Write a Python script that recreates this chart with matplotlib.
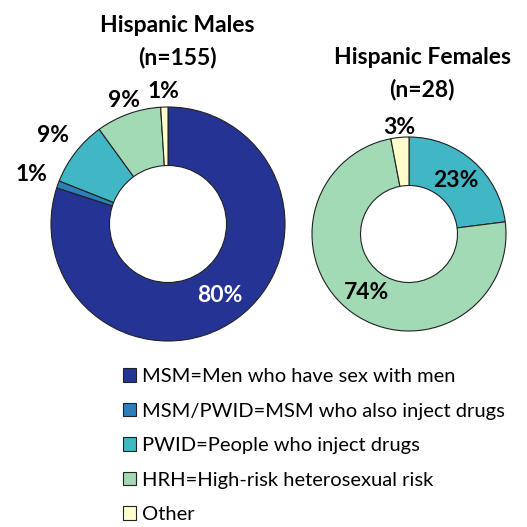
import matplotlib.pyplot as plt
from matplotlib.patches import Patch
import numpy as np

plt.rcParams['font.family'] = ['Lato', 'DejaVu Sans']

categories = ['MSM=Men who have sex with men', 'MSM/PWID=MSM who also inject drugs',
              'PWID=People who inject drugs', 'HRH=High-risk heterosexual risk', 'Other']
colors = ['#253494', '#2c7fb8', '#41b6c4', '#a1dab4', '#ffffcc']

males = [80, 1, 9, 9, 1]
females = [0, 0, 23, 74, 3]

# label distance from centre (in radii) per category
males_lab_r = [0.76, 1.24, 1.24, 1.12, 1.13]
females_lab_r = [0.0, 0.0, 0.73, 0.75, 1.10]
males_lab_col = ['white', 'black', 'black', 'black', 'black']

W = H = 527


def donut(cx, cy, R, values, lab_r, lab_col, title, tx, ty):
    pad = 1.45
    size = 2 * R * pad
    ax = fig.add_axes([(cx - R * pad) / W, (H - cy - R * pad) / H, size / W, size / H])
    vals = [v for v in values if v > 0]
    cols = [c for v, c in zip(values, colors) if v > 0]
    wedges, _ = ax.pie(vals, colors=cols, startangle=90, counterclock=False, radius=1,
                       wedgeprops=dict(width=0.5, edgecolor='#222222', linewidth=0.8))
    total = sum(vals)
    k = 0
    for i, v in enumerate(values):
        if v <= 0:
            continue
        p = wedges[k]
        k += 1
        ang = np.deg2rad((p.theta1 + p.theta2) / 2)
        r = lab_r[i]
        ax.text(r * np.cos(ang), r * np.sin(ang), f"{round(v / total * 100)}%",
                ha='center', va='center', fontsize=16.5, fontweight='bold', color=lab_col[i])
    ax.set_xlim(-pad, pad)
    ax.set_ylim(-pad, pad)
    ax.set_aspect('equal')
    ax.axis('off')
    for line, y in zip(title, ty):
        fig.text(tx / W, 1 - y / H, line, ha='center', va='center', fontsize=16.5,
                 fontweight='bold')


fig = plt.figure(figsize=(5.27, 5.27), dpi=100)

donut(168, 224, 117, males, males_lab_r, males_lab_col,
      ['Hispanic Males', '(n=155)'], 177, [26, 58])
donut(409, 234, 97, females, females_lab_r, ['black'] * 5,
      ['Hispanic Females', '(n=28)'], 422, [57, 89])

handles = [Patch(facecolor=c, edgecolor='#222222', linewidth=0.8) for c in colors]
fig.legend(handles, categories, loc='upper left', bbox_to_anchor=(123 / W, 1 - 368 / H),
           frameon=False, fontsize=14.5, handlelength=0.65, handleheight=0.65,
           handletextpad=0.3, labelspacing=0.87, borderaxespad=0, borderpad=0)

fig.savefig('out.png', dpi=100)
